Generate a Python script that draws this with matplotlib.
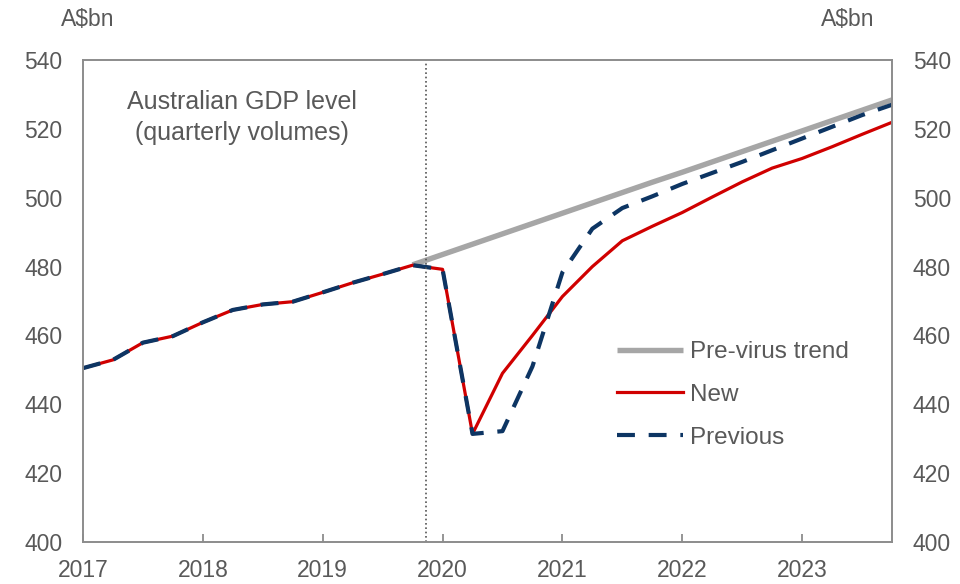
import matplotlib
matplotlib.use("Agg")
from matplotlib import pyplot as plt
import numpy as np

# Trimestres (años decimales) y niveles del PIB en A$bn
quarters = np.arange(2017.0, 2023.76, 0.25)
history = [450.5, 452.9, 457.9, 459.8, 463.8, 467.4, 469.0, 469.8,
           472.5, 475.3, 477.8, 480.4, 479.2, 431.4]
new_fc = [449.0, 460.0, 471.3, 480.0, 487.5, 491.7, 495.7, 500.2,
          504.6, 508.6, 511.4, 514.8, 518.4, 521.9]
prev_fc = [432.2, 451.0, 478.3, 491.0, 497.0, 500.4, 504.0, 507.2,
           510.4, 513.8, 517.2, 520.6, 524.0, 527.0]
trend_q = quarters[11:]
trend = [480.5, 483.5, 486.5, 489.5, 492.5, 495.5, 498.5, 501.5, 504.5,
         507.4, 510.4, 513.4, 516.4, 519.4, 522.4, 525.4, 528.4]
year_ticks = [2017, 2018, 2019, 2020, 2021, 2022, 2023]
y_ticks = [400, 420, 440, 460, 480, 500, 520, 540]
covid_line = 2019.86

new_series = history + new_fc
prev_series = history + prev_fc

GREY_TXT = "#595959"
plt.rcParams["font.family"] = ["Liberation Sans", "DejaVu Sans"]

fig = plt.figure(figsize=(9.6, 5.84), dpi=100)
ax = fig.add_axes([83/960, 42/584, 809/960, 482/584])

ax.plot(trend_q, trend, color="#a6a6a6", lw=3.9, label="Pre-virus trend", solid_capstyle="butt")
ax.plot(quarters, new_series, color="#d00000", lw=2.3, label="New")
ax.plot(quarters, prev_series, color="#0d3563", lw=3.0, dashes=(4.3, 3.3), label="Previous")
ax.axvline(covid_line, color="#555555", lw=1.2, linestyle=(0, (1, 1.6)))

ax.set_xlim(2017.0, 2023.75)
ax.set_ylim(400, 540)
ax.set_xticks(year_ticks)
ax.set_xticklabels([str(y) for y in year_ticks])
ax.set_yticks(y_ticks)
ax.tick_params(axis="x", direction="in", length=6, width=1.3, color="#8c8c8c",
               labelsize=16.5, labelcolor=GREY_TXT, pad=12)
ax.tick_params(axis="y", length=0, labelsize=16.5, labelcolor=GREY_TXT, pad=15)
for s in ax.spines.values():
    s.set_color("#8c8c8c")
    s.set_linewidth(1.4)

# eje derecho con la misma escala
ax2 = ax.twinx()
ax2.set_ylim(400, 540)
ax2.set_yticks(y_ticks)
ax2.tick_params(axis="y", length=0, labelsize=16.5, labelcolor=GREY_TXT, pad=15)
for s in ax2.spines.values():
    s.set_visible(False)

fig.text(88/960, 1-19/584, "A$bn", ha="center", va="center", fontsize=16.5, color=GREY_TXT)
fig.text(848/960, 1-20/584, "A$bn", ha="center", va="center", fontsize=16.5, color=GREY_TXT)
ax.text(0.197, 0.881, "Australian GDP level\n(quarterly volumes)", transform=ax.transAxes,
        ha="center", va="center", fontsize=18, color=GREY_TXT, linespacing=1.35)

leg = ax.legend(loc="upper left", bbox_to_anchor=(617/960, 1-341/584), bbox_transform=fig.transFigure,
                frameon=False, fontsize=17.5, handlelength=2.7, handletextpad=0.3,
                labelspacing=0.86, borderpad=0, borderaxespad=0)
for t in leg.get_texts():
    t.set_color(GREY_TXT)

fig.savefig("out.png", dpi=100)
